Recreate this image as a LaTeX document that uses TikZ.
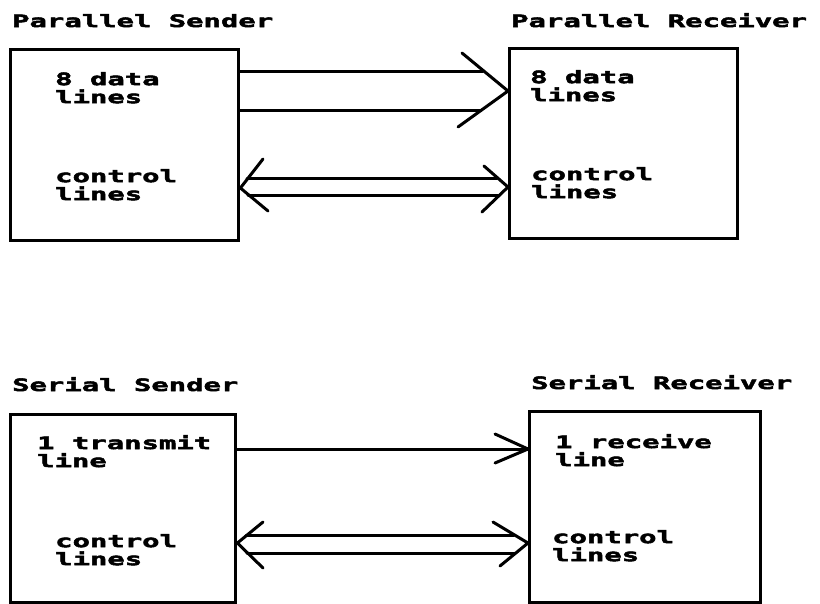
\documentclass[tikz,border=0pt]{standalone}
\usepackage{fontspec}
\newfontfamily\dotfont[FakeStretch=1.7,FakeBold=3]{DejaVu Sans Mono}
\begin{document}
\begin{tikzpicture}[x=1pt,y=-1pt,
  box/.style={draw, line width=3.4pt, inner sep=0pt, anchor=north west},
  wire/.style={line width=3pt, line cap=round, line join=round},
  lbl/.style={anchor=base west, inner sep=0pt, font=\dotfont\bfseries\fontsize{17}{18}\selectfont},
  txt/.style={anchor=north west, inner sep=0pt, align=left, font=\dotfont\bfseries\fontsize{17}{18}\selectfont}]
\useasboundingbox (0,0) rectangle (820,603);
\fill[white] (0,0) rectangle (820,603);

% boxes
\node[box, minimum width=228pt, minimum height=191pt] (ps) at (9,48) {};
\node[box, minimum width=228pt, minimum height=190pt] (pr) at (508,47) {};
\node[box, minimum width=225pt, minimum height=188pt] (ss) at (9,413) {};
\node[box, minimum width=231pt, minimum height=191pt] (sr) at (528,410) {};

% titles
\node[lbl] (pst) at (12,27) {Parallel Sender};
\node[lbl] (prt) at (511,27) {Parallel Receiver};
\node[lbl] (sst) at (12,391) {Serial Sender};
\node[lbl] (srt) at (531,389) {Serial Receiver};

% box texts (first baseline about 13px below the given top)
\node[txt] (psa) at (55,72) {8 data\\lines};
\node[txt] (psb) at (55,169) {control\\lines};
\node[txt] (pra) at (530,70) {8 data\\lines};
\node[txt] (prb) at (531,167) {control\\lines};
\node[txt] (ssa) at (37,435) {1 transmit\\line};
\node[txt] (ssb) at (55,534) {control\\lines};
\node[txt] (sra) at (555,434) {1 receive\\line};
\node[txt] (srb) at (552,530) {control\\lines};

% parallel data lines
\coordinate (d1s) at (ps.east |- 0,71);
\coordinate (d1e) at (483,71);
\coordinate (d2s) at (ps.east |- 0,110);
\coordinate (d2e) at (481,110);
\coordinate (dtip) at (pr.west |- 0,91);
\coordinate (dbu) at (462,53);
\coordinate (dbl) at (458,127);
\draw[wire] (d1s) -- (d1e);
\draw[wire] (d2s) -- (d2e);
\draw[wire] (dbu) -- (dtip) -- (dbl);

% parallel control lines
\coordinate (cl) at (ps.east |- 0,188);
\coordinate (clu) at (263,159);
\coordinate (cll) at (268,211);
\coordinate (cr) at (pr.west |- 0,187);
\coordinate (cru) at (484,166);
\coordinate (crl) at (482,212);
\coordinate (c1a) at (247,178);
\coordinate (c1b) at (497,178);
\coordinate (c2a) at (248,195);
\coordinate (c2b) at (498,195);
\draw[wire] (clu) -- (cl) -- (cll);
\draw[wire] (cru) -- (cr) -- (crl);
\draw[wire] (c1a) -- (c1b);
\draw[wire] (c2a) -- (c2b);

% serial transmit line
\coordinate (ts) at (ss.east |- 0,449);
\coordinate (tt) at (sr.west |- 0,449);
\coordinate (tbu) at (495,434);
\coordinate (tbl) at (495,463);
\draw[wire] (ts) -- (tt);
\draw[wire] (tbu) -- (tt) -- (tbl);

% serial control lines
\coordinate (sl) at (ss.east |- 0,543);
\coordinate (slu) at (263,522);
\coordinate (sll) at (263,568);
\coordinate (sr0) at (sr.west |- 0,543);
\coordinate (sru) at (493,522);
\coordinate (srl) at (500,566);
\coordinate (s1a) at (246,535);
\coordinate (s1b) at (514,535);
\coordinate (s2a) at (247,553);
\coordinate (s2b) at (515,553);
\draw[wire] (slu) -- (sl) -- (sll);
\draw[wire] (sru) -- (sr0) -- (srl);
\draw[wire] (s1a) -- (s1b);
\draw[wire] (s2a) -- (s2b);
\end{tikzpicture}
\end{document}
